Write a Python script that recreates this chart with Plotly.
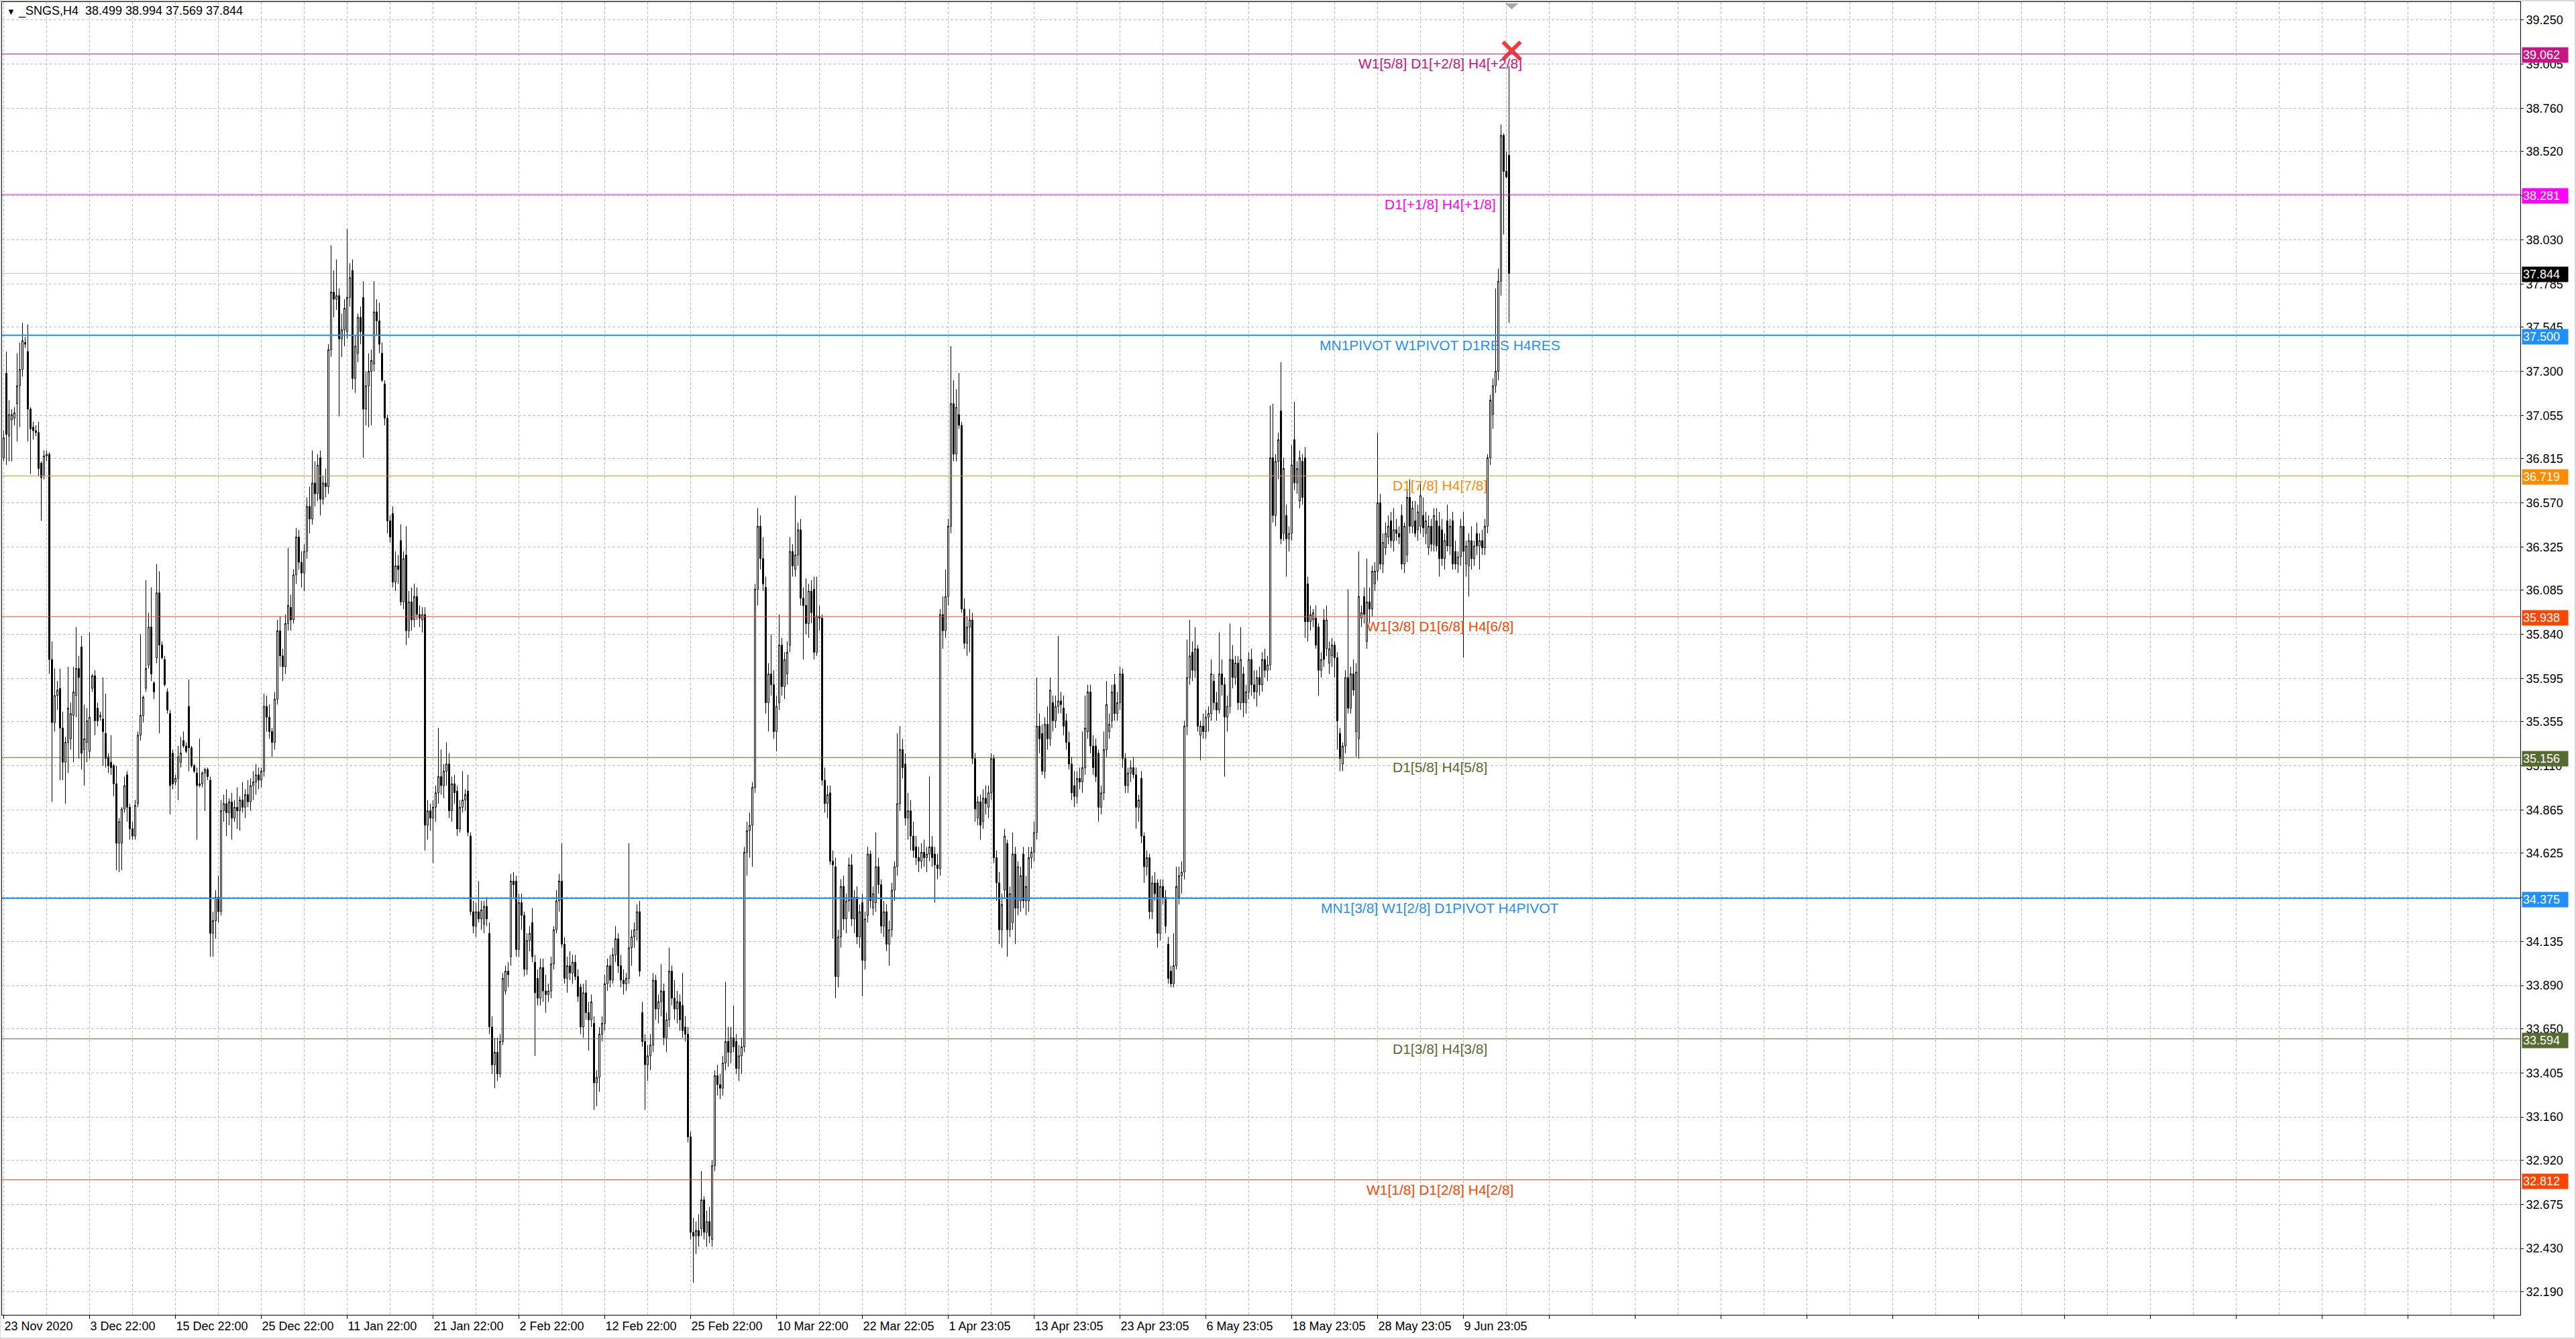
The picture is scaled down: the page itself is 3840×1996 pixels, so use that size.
import plotly.graph_objects as go

# ---------------- DATA ----------------
# H4 candles, (open, high, low, close), in chart order
seg_late_nov = [
    (36.82,36.97,36.80,36.93),(37.29,37.41,36.78,36.95),(36.94,37.14,36.80,37.06),(37.03,37.09,36.80,37.06),
    (37.04,37.10,37.00,37.07),(37.12,37.40,36.91,37.22),(37.22,37.46,36.99,37.31),(37.31,37.57,37.27,37.47),
    (37.46,37.49,37.43,37.45),(37.41,37.56,36.91,37.09),(37.09,37.10,36.73,36.98),(36.99,37.02,36.92,36.97),
    (36.97,37.00,36.94,36.96),(36.96,37.02,36.72,36.76),(36.79,36.80,36.47,36.71),(36.72,36.86,36.70,36.83),
    (36.83,36.86,36.80,36.84),(36.84,36.85,35.62,35.70),(35.70,35.80,34.91,35.35),(35.35,35.65,35.30,35.50),
    (35.50,35.58,35.42,35.53),(35.54,35.65,35.03,35.32),(35.32,35.41,35.03,35.13),(35.13,35.27,34.90,35.24),
    (35.24,35.66,35.07,35.43),(35.26,35.46,35.20,35.40),(35.39,35.66,35.13,35.52),(35.50,35.88,35.38,35.65),
    (35.65,35.72,35.15,35.60),(35.77,35.83,35.09,35.18),(35.20,35.45,35.00,35.26),(35.24,35.43,35.13,35.36),
    (35.19,35.85,35.15,35.38),(35.54,35.62,35.52,35.61),(35.61,35.64,35.28,35.36),(35.43,35.46,35.33,35.36),
    (35.38,35.41,35.36,35.39),(35.37,35.60,35.11,35.30),(35.29,35.51,35.10,35.15),(35.16,35.18,35.07,35.11),
    (35.13,35.28,35.06,35.10),(35.11,35.12,34.94,35.01),(35.01,35.11,34.53,34.68),(34.68,34.82,34.52,34.80),
    (34.68,34.88,34.53,34.87),
]
seg_december = [
    (34.87,35.05,34.85,35.00),(35.06,35.08,34.80,34.88),(34.88,34.90,34.70,34.76),(34.76,34.80,34.70,34.72),
    (34.72,34.92,34.70,34.89),(34.90,35.30,34.88,35.28),(35.28,35.84,35.25,35.39),(35.39,35.50,35.35,35.49),
    (35.54,36.14,35.52,35.65),(35.67,35.96,35.65,35.88),(35.88,36.10,35.58,35.62),(35.57,35.58,35.48,35.52),
    (35.71,36.23,35.68,36.07),(36.07,36.19,35.29,35.78),(35.78,35.80,35.70,35.71),(35.70,35.72,35.55,35.56),
    (35.52,35.54,35.40,35.42),(35.40,35.42,34.84,35.00),(35.18,35.20,34.98,35.01),(35.02,35.06,35.00,35.04),
    (35.04,35.22,34.92,35.16),(35.13,35.27,35.10,35.18),(35.25,35.30,35.21,35.22),(35.22,35.24,35.18,35.19),
    (35.44,35.59,35.08,35.21),(35.21,35.22,35.10,35.11),(35.11,35.12,35.07,35.08),(35.07,35.10,34.70,35.00),
    (35.00,35.26,34.99,35.01),(35.01,35.08,34.99,35.07),(35.07,35.10,34.86,35.09),(35.09,35.10,35.03,35.05),
    (35.03,35.05,34.05,34.18),(34.18,34.30,34.05,34.25),(34.25,34.42,34.15,34.38),(34.38,34.50,34.24,34.30),
    (34.30,34.92,34.28,34.86),(34.86,34.95,34.80,34.90),(34.90,34.98,34.72,34.85),(34.85,34.93,34.78,34.91),
    (34.91,34.96,34.70,34.82),(34.82,34.92,34.80,34.88),(34.88,34.99,34.76,34.86),(34.86,34.94,34.75,34.92),
    (34.92,35.02,34.85,34.88),(34.88,34.98,34.82,34.95),(34.95,35.03,34.88,34.91),(34.91,35.04,34.86,35.00),
    (35.00,35.08,34.92,35.02),(35.02,35.12,34.95,35.06),(35.06,35.10,34.98,35.03),(35.03,35.10,34.99,35.08),
    (35.08,35.51,35.05,35.44),(35.44,35.50,35.30,35.38),(35.38,35.45,35.26,35.30),(35.30,35.32,35.16,35.24),
]
seg_january = [
    (35.24,35.52,35.20,35.48),(35.48,35.92,35.45,35.86),(35.86,35.94,35.66,35.72),(35.72,35.76,35.58,35.66),
    (35.66,35.95,35.62,35.90),(35.90,36.32,35.86,36.00),(35.99,36.06,35.86,35.92),(35.92,36.20,35.90,36.17),
    (36.17,36.43,36.12,36.38),(36.38,36.42,36.20,36.24),(36.24,36.30,36.10,36.18),(36.18,36.34,36.08,36.30),
    (36.30,36.60,36.26,36.55),(36.55,36.66,36.40,36.48),(36.48,36.86,36.45,36.68),(36.68,36.80,36.55,36.62),
    (36.62,36.84,36.58,36.78),(36.82,36.86,36.50,36.59),(36.59,36.72,36.56,36.68),(36.68,36.76,36.60,36.66),
    (36.66,37.45,36.62,37.42),(37.42,38.00,37.38,37.74),(37.74,37.86,37.60,37.70),(37.70,37.92,37.64,37.72),
    (37.72,37.76,37.05,37.48),(37.48,37.62,37.38,37.53),(37.53,37.70,37.44,37.65),(37.52,38.09,37.48,37.71),
    (37.71,37.90,37.66,37.82),(37.86,37.92,37.20,37.26),(37.26,37.50,37.18,37.44),(37.40,37.62,37.35,37.60),
    (37.60,37.66,37.45,37.52),(37.71,37.80,36.82,37.09),(37.09,37.30,37.00,37.22),(37.22,37.40,36.99,37.30),
    (37.30,37.42,37.00,37.36),(37.34,37.80,37.30,37.63),(37.63,37.70,37.50,37.58),(37.58,37.68,37.40,37.45),
    (37.40,37.46,37.24,37.25),(37.23,37.25,37.00,37.04),(37.04,37.06,36.40,36.47),(36.47,36.50,36.35,36.38),
    (36.51,36.55,36.10,36.13),(36.13,36.30,36.08,36.22),(36.22,36.28,36.12,36.20),(36.36,36.45,36.00,36.02),
    (36.02,36.30,35.98,36.26),(36.28,36.44,35.78,35.86),(35.86,36.08,35.82,36.02),(36.02,36.10,35.86,35.92),
    (35.92,36.12,35.88,36.05),(36.05,36.10,35.92,35.95),(35.95,36.00,35.88,35.93),(35.92,35.99,35.85,35.95),
    (35.95,35.99,34.64,34.78),(34.78,34.92,34.70,34.86),(34.86,34.90,34.75,34.82),(34.82,34.92,34.57,34.88),
]
seg_february = [
    (34.88,35.00,34.80,34.96),(34.96,35.32,34.90,35.05),(35.05,35.20,34.95,35.00),(35.00,35.12,34.93,35.08),
    (35.08,35.24,35.00,35.12),(35.12,35.18,34.82,34.86),(34.86,35.05,34.80,35.01),(35.01,35.06,34.90,34.96),
    (34.97,35.00,34.72,34.76),(34.76,34.92,34.74,34.88),(34.88,35.08,34.85,34.92),(34.92,34.98,34.86,34.95),
    (34.97,35.06,34.72,34.74),(34.72,34.74,34.28,34.30),(34.30,34.36,34.18,34.22),(34.22,34.35,34.16,34.30),
    (34.30,34.47,34.24,34.26),(34.26,34.36,34.20,34.31),(34.23,34.36,34.18,34.33),(34.33,34.38,34.22,34.26),
    (34.18,34.24,33.62,33.66),(33.66,33.72,33.40,33.45),(33.45,33.60,33.32,33.52),(33.52,33.60,33.36,33.40),
    (33.40,33.62,33.38,33.58),(33.58,33.96,33.56,33.93),(33.86,34.00,33.84,33.97),(33.97,34.02,33.88,33.95),
    (34.05,34.51,34.00,34.47),(34.47,34.52,34.38,34.45),(34.47,34.50,34.05,34.09),(34.09,34.40,34.05,34.35),
    (34.35,34.40,34.20,34.28),(34.28,34.30,33.94,33.98),(33.98,34.18,33.95,34.14),(34.14,34.22,34.08,34.18),
    (34.24,34.32,34.02,34.05),(34.02,34.06,33.50,33.85),(33.93,33.98,33.78,33.82),(33.82,34.04,33.78,33.99),
    (33.99,34.04,33.80,33.86),(33.86,33.95,33.74,33.84),(33.84,33.90,33.80,33.86),(33.86,34.05,33.82,34.01),
    (34.01,34.22,33.98,34.20),(34.20,34.42,34.18,34.36),(34.36,34.51,34.30,34.47),(34.47,34.68,34.10,34.12),
    (34.12,34.16,33.90,33.93),(33.93,34.05,33.85,34.00),(34.00,34.08,33.92,33.96),(33.96,34.06,33.90,34.02),
    (34.02,34.06,33.92,33.94),(33.94,33.98,33.80,33.83),(33.88,33.90,33.62,33.66),(33.66,33.90,33.60,33.85),
    (33.85,33.92,33.70,33.74),(33.74,33.80,33.53,33.70),(33.70,33.84,33.66,33.80),(33.68,33.72,33.20,33.35),
]
seg_late_feb = [
    (33.35,33.42,33.22,33.38),(33.38,33.66,33.30,33.62),(33.62,33.72,33.58,33.68),(33.68,33.95,33.64,33.90),
    (33.90,34.04,33.86,34.00),(34.00,34.06,33.88,33.92),(33.92,34.10,33.90,34.06),(34.06,34.22,34.02,34.15),
    (34.15,34.18,33.96,34.00),(34.00,34.06,33.88,33.92),(33.92,33.98,33.84,33.90),(33.90,33.96,33.86,33.93),
    (33.93,34.68,33.90,34.10),(34.10,34.20,34.00,34.16),(34.16,34.24,34.10,34.20),(34.20,34.34,34.14,34.30),
    (34.30,34.36,33.94,33.97),(33.74,33.80,33.55,33.58),(33.58,33.62,33.20,33.45),(33.45,33.56,33.36,33.50),
    (33.50,33.62,33.42,33.56),(33.56,33.96,33.52,33.92),(33.92,33.95,33.70,33.76),(33.76,33.84,33.68,33.80),
    (33.80,34.01,33.72,33.86),(33.86,33.90,33.56,33.60),(33.60,33.74,33.52,33.70),(33.70,34.10,33.66,33.97),
    (33.97,34.00,33.78,33.82),(33.82,33.92,33.70,33.76),(33.76,33.86,33.68,33.80),(33.80,33.84,33.64,33.70),
    (33.78,33.96,33.60,33.64),(33.66,33.72,33.58,33.62),(33.62,33.66,33.02,33.05),(33.05,33.08,32.48,32.52),
    (32.52,32.60,32.24,32.50),(32.50,32.58,32.40,32.53),(32.53,32.62,32.44,32.50),(32.54,32.86,32.50,32.70),
    (32.70,32.72,32.48,32.52),(32.52,32.64,32.44,32.58),(32.58,32.66,32.46,32.50),(32.48,32.92,32.44,32.89),
    (32.89,33.42,32.86,33.39),(33.39,33.45,33.28,33.34),(33.34,33.40,33.26,33.32),(33.32,33.50,33.28,33.46),
    (33.46,33.91,33.42,33.58),(33.58,33.66,33.44,33.52),(33.52,33.66,33.46,33.60),(33.60,33.78,33.52,33.55),
    (33.58,33.62,33.40,33.43),(33.43,33.56,33.36,33.50),(33.50,33.60,33.40,33.55),(33.55,34.66,33.52,34.63),
    (34.63,34.80,34.50,34.75),(34.75,34.85,34.60,34.78),(34.78,35.02,34.55,34.99),(34.99,36.12,34.96,36.09),
]
seg_march = [
    (36.09,36.54,36.00,36.44),(36.44,36.50,36.20,36.26),(36.26,36.38,36.08,36.12),(36.10,36.16,35.40,35.46),
    (35.46,35.68,35.30,35.62),(35.62,35.84,35.50,35.56),(35.56,35.64,35.26,35.30),(35.30,35.50,35.19,35.44),
    (35.46,35.95,35.42,35.78),(35.78,35.82,35.50,35.55),(35.55,35.74,35.48,35.70),(35.62,35.80,35.56,35.74),
    (35.78,36.38,35.74,36.30),(36.30,36.34,36.16,36.22),(36.20,36.61,36.16,36.28),(36.28,36.46,36.22,36.42),
    (36.42,36.48,36.00,36.04),(36.04,36.10,35.70,36.00),(36.00,36.15,35.84,35.90),(35.90,36.12,35.82,36.08),
    (36.08,36.14,35.90,35.96),(36.09,36.16,35.70,35.74),(35.74,36.16,35.72,35.94),(35.94,36.00,35.86,35.93),
    (35.93,35.95,35.00,35.03),(35.03,35.10,34.85,34.90),(34.90,35.00,34.82,34.95),(34.96,35.00,34.56,34.58),
    (34.58,34.64,34.15,34.56),(34.55,34.60,33.82,33.94),(33.94,34.20,33.88,34.16),(34.16,34.48,34.10,34.44),
    (34.44,34.50,34.20,34.26),(34.26,34.40,34.18,34.36),(34.36,34.60,34.30,34.56),(34.56,34.62,34.22,34.26),
    (34.26,34.42,34.18,34.38),(34.38,34.44,34.12,34.16),(34.16,34.34,34.10,34.30),(34.35,34.40,33.83,34.03),
    (34.03,34.30,33.98,34.26),(34.28,34.66,34.24,34.62),(34.62,34.64,34.32,34.36),(34.32,34.44,34.28,34.40),
    (34.35,34.74,34.30,34.55),(34.55,34.60,34.40,34.45),(34.45,34.48,34.18,34.22),(34.22,34.36,34.16,34.30),
    (34.30,34.34,34.08,34.12),(34.12,34.25,34.00,34.20),(34.20,34.46,34.16,34.42),(34.42,34.58,34.36,34.55),
    (34.55,35.29,34.50,34.90),(34.90,35.33,34.86,35.20),(35.20,35.26,35.04,35.10),(35.12,35.18,34.78,34.82),
    (34.82,34.96,34.70,34.86),(34.86,34.92,34.64,34.72),(34.72,34.80,34.60,34.64),(34.66,34.72,34.56,34.60),
    (34.60,34.66,34.52,34.58),(34.58,34.68,34.54,34.63),(34.63,34.70,34.55,34.60),(34.60,34.66,34.52,34.62),
    (34.62,35.05,34.58,34.66),(34.66,34.72,34.55,34.60),(34.62,34.66,34.35,34.56),(34.56,34.62,34.48,34.54),
    (34.54,35.98,34.50,35.95),
]
seg_april = [
    (35.95,36.05,35.76,35.86),(35.86,36.20,35.82,36.05),(36.05,36.48,36.00,36.44),(36.44,37.44,36.40,37.12),
    (37.12,37.25,36.80,36.84),(36.84,37.20,36.80,37.10),(37.06,37.29,36.98,37.00),(37.00,37.02,35.96,35.98),
    (35.98,36.04,35.76,35.79),(35.79,35.94,35.72,35.88),(35.88,35.98,35.74,35.92),(35.92,35.96,35.12,35.15),
    (35.15,35.18,34.80,34.87),(34.82,34.94,34.78,34.91),(34.91,34.95,34.70,34.78),(34.80,34.98,34.76,34.93),
    (34.93,35.00,34.84,34.90),(34.88,35.00,34.82,34.96),(34.96,35.18,34.92,35.15),(35.15,35.17,34.57,34.60),
    (34.60,34.64,34.36,34.46),(34.46,34.52,34.12,34.20),(34.20,34.40,34.10,34.34),(34.42,34.76,34.38,34.72),
    (34.68,34.70,34.05,34.20),(34.20,34.44,34.16,34.40),(34.24,34.74,34.20,34.62),(34.62,34.66,34.12,34.32),
    (34.32,34.58,34.28,34.55),(34.36,34.55,34.30,34.50),(34.62,34.66,34.32,34.36),(34.36,34.50,34.28,34.44),
    (34.36,34.66,34.30,34.60),(34.60,34.66,34.54,34.63),(34.63,34.80,34.58,34.74),(34.74,35.60,34.70,35.33),
    (35.33,35.40,35.18,35.26),(35.29,35.34,35.06,35.08),(35.08,35.38,35.04,35.34),(35.34,35.44,35.20,35.26),
    (35.26,35.60,35.22,35.53),(35.46,35.50,35.30,35.36),(35.36,35.50,35.32,35.44),(35.44,35.83,35.40,35.47),
    (35.47,35.52,35.40,35.45),(35.43,35.50,35.28,35.33),(35.36,35.40,35.20,35.24),(35.24,35.30,35.09,35.12),
    (35.12,35.16,34.92,34.96),(35.00,35.08,34.88,34.94),(34.94,35.08,34.90,35.04),(35.04,35.10,34.98,35.02),
    (35.02,35.30,34.96,35.10),(35.10,35.50,35.06,35.32),(35.30,35.56,35.26,35.52),(35.52,35.56,35.18,35.22),
    (35.22,35.28,35.06,35.10),(35.22,35.26,35.02,35.05),(35.18,35.20,34.80,34.88),(34.88,35.00,34.84,34.96),
    (34.96,35.30,34.92,35.20),(35.20,35.58,35.16,35.45),(35.30,35.40,35.26,35.34),(35.36,35.56,35.32,35.52),
    (35.56,35.62,35.36,35.40),(35.40,35.52,35.36,35.46),(35.46,35.66,35.42,35.62),(35.62,35.65,35.10,35.15),
    (35.15,35.18,34.96,35.00),(35.00,35.10,34.96,35.07),(35.07,35.14,35.02,35.10),
]
seg_may = [
    (35.10,35.16,35.04,35.06),(35.06,35.10,34.76,34.88),(34.88,34.95,34.80,34.92),(35.04,35.08,34.68,34.72),
    (34.72,34.74,34.46,34.55),(34.55,34.64,34.50,34.60),(34.60,34.62,34.26,34.30),(34.30,34.50,34.26,34.46),
    (34.46,34.52,34.36,34.40),(34.46,34.48,34.10,34.18),(34.18,34.48,34.14,34.44),(34.44,34.48,34.34,34.38),
    (34.38,34.42,34.18,34.22),(34.12,34.16,33.90,33.93),(33.97,34.00,33.88,33.90),(33.90,34.18,33.88,34.00),
    (34.00,34.55,33.98,34.44),(34.38,34.55,34.34,34.50),(34.50,34.58,34.40,34.52),(34.52,35.36,34.48,35.33),
    (35.33,35.81,35.28,35.60),(35.60,35.92,35.56,35.72),(35.74,35.80,35.58,35.64),(35.64,35.88,35.60,35.76),
    (35.76,35.78,35.30,35.33),(35.28,35.36,35.14,35.33),(35.33,35.40,35.26,35.30),(35.30,35.42,35.26,35.38),
    (35.38,35.44,35.30,35.40),(35.40,35.70,35.36,35.62),(35.58,35.62,35.42,35.46),(35.46,35.52,35.36,35.42),
    (35.42,35.85,35.40,35.62),(35.62,35.70,35.50,35.56),(35.56,35.60,35.05,35.38),(35.38,35.50,35.30,35.44),
    (35.44,35.90,35.40,35.70),(35.70,35.78,35.54,35.60),(35.60,35.72,35.56,35.68),(35.68,35.72,35.42,35.46),
    (35.46,35.88,35.42,35.70),(35.62,35.66,35.38,35.46),(35.46,35.56,35.40,35.52),(35.52,35.74,35.48,35.70),
    (35.70,35.76,35.50,35.56),(35.56,35.64,35.48,35.52),(35.52,35.64,35.44,35.60),(35.60,35.66,35.50,35.56),
    (35.56,35.74,35.52,35.70),(35.70,35.76,35.60,35.64),(35.64,35.72,35.58,35.67),(35.67,37.11,35.64,36.82),
    (36.82,37.12,36.46,36.50),(36.50,36.84,36.44,36.80),(36.80,36.96,36.70,36.92),(37.08,37.35,36.34,36.37),
    (36.40,36.82,36.36,36.76),(36.50,36.56,36.16,36.37),(36.37,36.44,36.30,36.40),(36.40,36.89,36.36,36.78),
    (36.92,37.13,36.64,36.68),(36.68,36.80,36.62,36.76),(36.58,36.86,36.54,36.82),(36.80,36.84,36.56,36.60),
    (36.82,36.88,35.82,35.91),(36.12,36.16,35.80,35.91),(35.91,36.00,35.86,35.95),(35.92,35.98,35.88,35.96),
    (35.93,36.00,35.76,35.78),(35.88,35.90,35.50,35.64),
]
seg_june = [
    (35.64,35.74,35.60,35.70),(35.92,35.98,35.66,35.70),(35.76,36.00,35.72,35.92),(35.68,35.80,35.62,35.76),
    (35.72,35.82,35.66,35.78),(35.78,35.80,35.60,35.71),(35.71,35.74,35.20,35.36),(35.29,35.32,35.08,35.15),
    (35.12,35.24,35.08,35.22),(35.22,35.64,35.18,35.60),(35.60,36.09,35.40,35.43),(35.43,35.66,35.40,35.62),
    (35.62,35.70,35.50,35.53),(35.30,35.68,35.16,35.63),(35.26,36.30,35.15,36.05),(35.93,36.00,35.88,35.96),
    (36.05,36.10,35.90,35.95),(35.80,36.26,35.76,36.02),(36.02,36.10,35.90,35.98),(35.98,36.22,35.94,36.19),
    (36.12,36.24,36.08,36.19),(36.19,36.96,36.14,36.57),(36.57,36.62,36.20,36.23),(36.23,36.40,36.18,36.35),
    (36.32,36.46,36.28,36.40),(36.38,36.50,36.34,36.44),(36.47,36.52,36.32,36.36),(36.36,36.54,36.30,36.42),
    (36.42,36.48,36.36,36.40),(36.40,36.44,36.34,36.38),(36.50,36.56,36.20,36.23),(36.23,36.46,36.18,36.44),
    (36.28,36.64,36.24,36.60),(36.60,36.70,36.40,36.44),(36.44,36.58,36.40,36.54),(36.47,36.58,36.38,36.40),
    (36.42,36.56,36.36,36.52),(36.44,36.68,36.40,36.61),(36.50,36.60,36.38,36.43),(36.40,36.52,36.34,36.47),
    (36.32,36.50,36.28,36.44),(36.44,36.48,36.30,36.34),(36.34,36.54,36.30,36.50),(36.47,36.54,36.30,36.33),
    (36.44,36.52,36.16,36.26),(36.42,36.48,36.22,36.26),(36.26,36.40,36.20,36.36),(36.47,36.56,36.30,36.33),
    (36.33,36.48,36.28,36.44),(36.47,36.52,36.20,36.23),(36.30,36.36,36.20,36.23),(36.23,36.30,36.18,36.27),
    (36.27,36.48,36.22,36.44),(36.44,36.52,35.71,36.30),(36.23,36.36,36.16,36.33),(36.22,36.40,36.05,36.36),
    (36.36,36.44,36.20,36.26),(36.26,36.36,36.22,36.33),(36.40,36.46,36.28,36.33),(36.33,36.40,36.20,36.36),
    (36.36,36.42,36.28,36.32),(36.32,36.48,36.28,36.44),(36.44,36.84,36.40,36.82),(36.82,37.17,36.78,37.14),
    (37.06,37.26,36.98,37.22),(37.22,37.76,37.18,37.30),(37.30,37.87,37.25,37.80),(37.80,38.67,37.72,38.61),
    (38.61,38.62,38.06,38.41),(38.41,38.52,38.37,38.38),(38.499,38.994,37.569,37.844),
]

# time-axis labels: text and the bar index where each one starts
date_labels = ["23 Nov 2020", "3 Dec 22:00", "15 Dec 22:00", "25 Dec 22:00", "11 Jan 22:00",
               "21 Jan 22:00", "2 Feb 22:00", "12 Feb 22:00", "25 Feb 22:00", "10 Mar 22:00",
               "22 Mar 22:05", "1 Apr 23:05", "13 Apr 23:05", "23 Apr 23:05", "6 May 23:05",
               "18 May 23:05", "28 May 23:05", "9 Jun 23:05"]
date_bars = [0, 32, 64, 96, 128, 160, 192, 224, 256, 288, 320, 352, 384, 416, 448, 480, 512, 544]

price_ticks = [39.250, 39.005, 38.760, 38.520, 38.275, 38.030, 37.785, 37.545, 37.300, 37.055,
               36.815, 36.570, 36.325, 36.085, 35.840, 35.595, 35.355, 35.110, 34.865, 34.625,
               34.380, 34.135, 33.890, 33.650, 33.405, 33.160, 32.920, 32.675, 32.430, 32.190]

level_prices = [39.062, 38.281, 37.500, 36.719, 35.938, 35.156, 34.375, 33.594, 32.812]
level_names = ["W1[5/8] D1[+2/8] H4[+2/8]", "D1[+1/8] H4[+1/8]", "MN1PIVOT W1PIVOT D1RES H4RES",
               "D1[7/8] H4[7/8]", "W1[3/8] D1[6/8] H4[6/8]", "D1[5/8] H4[5/8]",
               "MN1[3/8] W1[2/8] D1PIVOT H4PIVOT", "D1[3/8] H4[3/8]", "W1[1/8] D1[2/8] H4[2/8]"]

symbol_title = "_SNGS,H4"
last_ohlc = [38.499, 38.994, 37.569, 37.844]
signal_price = 39.08

# ---------------- STYLE ----------------
level_colors = ["#C71585", "#FF00FF", "#1E90FF", "#FF8C00", "#FF4500", "#556B2F",
                "#1E90FF", "#556B2F", "#FF4500"]
level_widths = [1, 1, 2, 1, 1, 1, 2, 1, 1]
FONT = "Liberation Sans, Arial, sans-serif"
GRID = "#C0C0C0"

candles = (seg_late_nov + seg_december + seg_january + seg_february + seg_late_feb
           + seg_march + seg_april + seg_may + seg_june)
opens = [c[0] for c in candles]
highs = [c[1] for c in candles]
lows = [c[2] for c in candles]
closes = [c[3] for c in candles]
bars = list(range(len(candles)))
last_bar = bars[-1]

W, H = 3840, 1996
ML, MR, MT, MB = 3, 83, 3, 36
PW, PH = W - ML - MR, H - MT - MB
PX_PER_BAR = 4
X0 = -0.625  # puts each candle centre on a half pixel so 1px lines stay crisp

fig = go.Figure()
fig.add_trace(go.Candlestick(
    x=bars, open=opens, high=highs, low=lows, close=closes,
    increasing=dict(line=dict(color="black", width=1), fillcolor="white"),
    decreasing=dict(line=dict(color="black", width=1), fillcolor="black"),
    whiskerwidth=0, showlegend=False, hoverinfo="skip",
))

shapes = []
annotations = []
label_bar = 535.25
for p, name, col, lw in zip(level_prices, level_names, level_colors, level_widths):
    shapes.append(dict(type="line", xref="paper", x0=0, x1=1, yref="y", y0=p, y1=p,
                       line=dict(color=col, width=lw), layer="above"))
    annotations.append(dict(x=label_bar, y=p, xref="x", yref="y", text=name, showarrow=False,
                            xanchor="center", yanchor="top", yshift=-1,
                            font=dict(family=FONT, size=21, color=col)))
# bid line
shapes.append(dict(type="line", xref="paper", x0=0, x1=1, yref="y", y0=last_ohlc[3], y1=last_ohlc[3],
                   line=dict(color="#C0C0C0", width=1), layer="below"))

# price tags on the right scale
tag_x = 1 + 2 / PW
for p, col in list(zip(level_prices, level_colors)) + [(last_ohlc[3], "black")]:
    annotations.append(dict(x=tag_x, y=p, xref="paper", yref="y", text=f"{p:.3f}", showarrow=False,
                            xanchor="left", yanchor="middle", yshift=-2, align="left",
                            width=66, height=20, bgcolor=col, borderpad=1,
                            font=dict(family=FONT, size=18, color="white")))

# title
annotations.append(dict(x=5 / PW, y=1 - 14 / PH, xref="paper", yref="paper", showarrow=False,
                        xanchor="left", yanchor="middle",
                        text="<span style='font-size:13px'>▼</span> " + symbol_title + "\u00a0\u00a0"
                             + " ".join(f"{v:.3f}" for v in last_ohlc),
                        font=dict(family=FONT, size=18, color="black")))

# chart-shift marker (gray triangle at the top)
sx = last_bar + 1
shapes.append(dict(type="path", xref="x", yref="paper",
                   path=f"M {sx-2.5},{1-2/PH} L {sx+2.5},{1-2/PH} L {sx},{1-11/PH} Z",
                   fillcolor="#A8A8A8", line=dict(width=0)))

# outer window frame
shapes.append(dict(type="rect", xref="paper", yref="paper",
                   x0=-ML / PW, x1=(W - ML - 1) / PW, y0=-(MB - 1) / PH, y1=1 + (MT - 1) / PH,
                   line=dict(color="#B0B0B0", width=1)))

# sell signal cross
fig.add_trace(go.Scatter(x=[last_bar + 1], y=[signal_price], mode="markers", showlegend=False,
                         hoverinfo="skip",
                         marker=dict(symbol="x-thin", size=26, line=dict(color="#EE3B3B", width=6))))

minor_grid = [b + 16 for b in range(0, 940, 32)]
major_grid = list(range(0, 940, 32))
ticktext_x = [date_labels[date_bars.index(b)] if b in date_bars else "" for b in major_grid]

fig.update_layout(
    width=W, height=H, autosize=False,
    margin=dict(l=ML, r=MR, t=MT, b=MB, pad=0),
    paper_bgcolor="white", plot_bgcolor="white",
    showlegend=False, boxgap=0.5, boxgroupgap=0,
    shapes=shapes, annotations=annotations,
    xaxis=dict(range=[X0, X0 + PW / PX_PER_BAR], tickvals=major_grid, ticktext=ticktext_x,
               ticks="outside", ticklen=5, tickcolor="black", tickwidth=1,
               ticklabelposition="outside right",
               tickfont=dict(family=FONT, size=18, color="black"),
               showgrid=True, gridcolor=GRID, griddash="4px,3px", gridwidth=1,
               minor=dict(tickvals=minor_grid, showgrid=True, gridcolor=GRID, griddash="4px,3px",
                          gridwidth=1, ticks=""),
               showline=True, linecolor="black", linewidth=1, mirror=True, zeroline=False,
               rangeslider=dict(visible=False), fixedrange=True),
    yaxis=dict(side="right", range=[32.062, 39.350], tickvals=price_ticks,
               ticktext=[f"{v:.3f}" for v in price_ticks],
               ticks="outside", ticklen=4, tickcolor="black", tickwidth=1,
               tickfont=dict(family=FONT, size=18, color="black"),
               showgrid=True, gridcolor=GRID, griddash="4px,3px", gridwidth=1,
               showline=True, linecolor="black", linewidth=1, mirror=True, zeroline=False,
               fixedrange=True),
)

fig.write_html("out.html", config={"displayModeBar": False},
               post_script="document.body.style.margin='0';document.body.style.overflow='hidden';")
